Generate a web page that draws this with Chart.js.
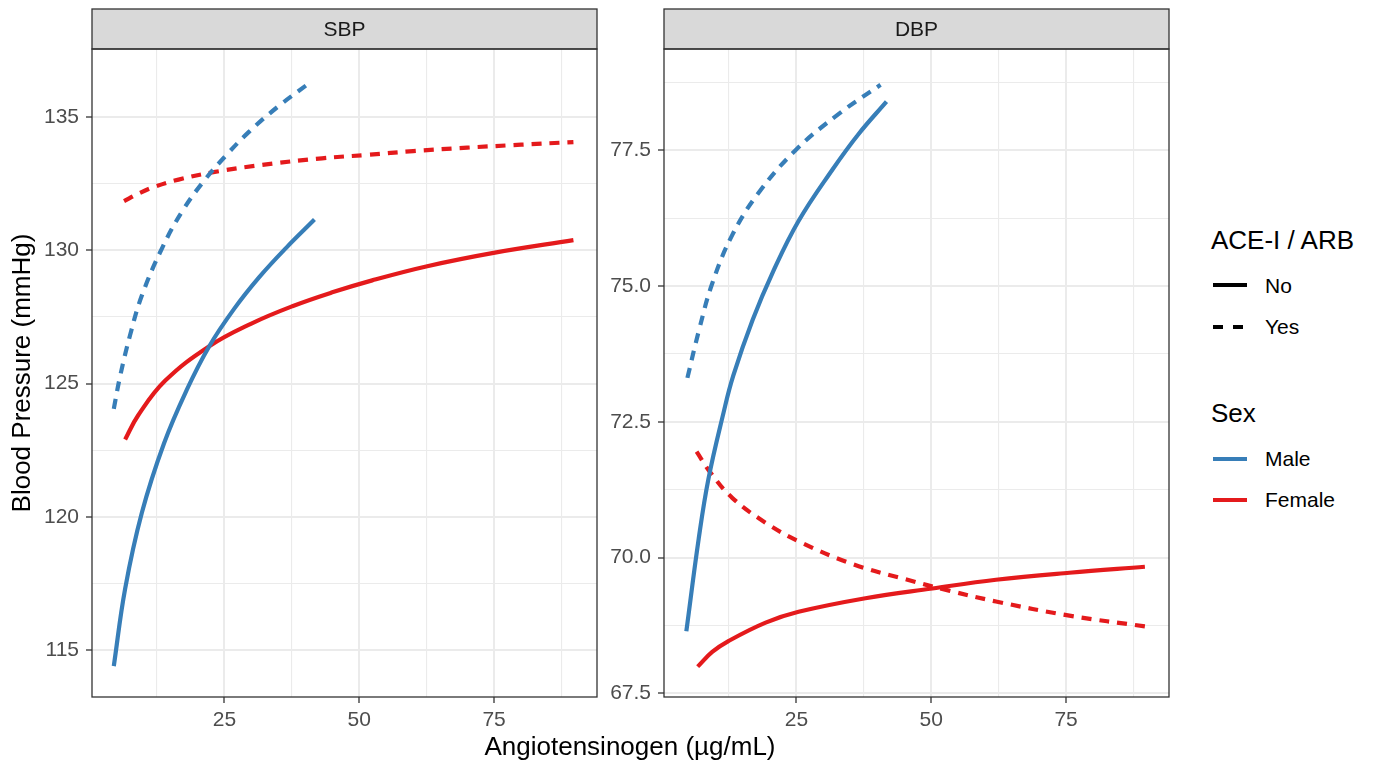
<!DOCTYPE html>
<html>
<head>
<meta charset="utf-8">
<script src="https://cdn.jsdelivr.net/npm/chart.js@4.4.0/dist/chart.umd.min.js"></script>
<style>
  body { margin: 0; background: #fff; font-family: "Liberation Sans", Arial, sans-serif; }
  #wrap { position: relative; width: 1376px; height: 768px; overflow: hidden; background: #fff; }
  canvas { position: absolute; top: 0; }
  #c1 { left: 0; }
  #c2 { left: 598px; }
  .xtitle { position: absolute; left: 330px; width: 600px; top: 731px; line-height: 30px; text-align: center; font-size: 26px; color: #000; }
  .ltitle { position: absolute; left: 1211px; font-size: 26px; line-height: 30px; color: #000; }
  .ltext { position: absolute; left: 1265px; font-size: 21px; line-height: 24px; color: #000; }
  .key { position: absolute; height: 4px; }
</style>
</head>
<body>
<div id="wrap">
  <canvas id="c1" width="598" height="768"></canvas>
  <canvas id="c2" width="572" height="768"></canvas>
  <div class="xtitle">Angiotensinogen (µg/mL)</div>

  <div class="ltitle" style="top:225px">ACE-I / ARB</div>
  <div class="key" style="left:1213px;top:283px;width:34px;background:#000"></div>
  <div class="ltext" style="top:274px">No</div>
  <div class="key" style="left:1213px;top:325px;width:10px;background:#000"></div>
  <div class="key" style="left:1233px;top:325px;width:10px;background:#000"></div>
  <div class="ltext" style="top:315px">Yes</div>

  <div class="ltitle" style="top:398px">Sex</div>
  <div class="key" style="left:1213px;top:457px;width:34px;background:#377EB8"></div>
  <div class="ltext" style="top:447px">Male</div>
  <div class="key" style="left:1213px;top:498px;width:34px;background:#E41A1C"></div>
  <div class="ltext" style="top:488px">Female</div>
</div>

<script>
// x axis (Angiotensinogen, µg/mL)
var xMajor = [25, 50, 75];
var xMinor = [12.5, 37.5, 62.5, 87.5];

// SBP panel
var sbpMajor = [115, 120, 125, 130, 135];
var sbpMinor = [117.5, 122.5, 127.5, 132.5];
var sbpMaleNoX   = [4.5, 6.6, 9.7, 13.8, 18.0, 22.2, 26.8, 31.5, 36.5, 41.7];
var sbpMaleNoY   = [114.4, 117.3, 120.15, 122.75, 124.75, 126.4, 127.8, 129.0, 130.1, 131.15];
var sbpMaleYesX  = [4.5, 5.7, 7.5, 9.7, 13.5, 17.3, 21.4, 25.5, 29.6, 35.0, 40.6];
var sbpMaleYesY  = [124.05, 125.3, 126.8, 128.3, 130.1, 131.5, 132.65, 133.6, 134.45, 135.4, 136.25];
var sbpFemNoX    = [6.6, 9.0, 14.0, 22.2, 30.0, 37.6, 45.0, 52.4, 62.6, 74.9, 89.7];
var sbpFemNoY    = [122.9, 123.8, 125.1, 126.4, 127.25, 127.9, 128.42, 128.87, 129.4, 129.9, 130.38];
var sbpFemYesX   = [6.4, 9.0, 12.0, 16.5, 22.7, 32.0, 43.1, 51.7, 60.0, 70.0, 80.0, 89.7];
var sbpFemYesY   = [131.84, 132.12, 132.38, 132.65, 132.92, 133.2, 133.45, 133.58, 133.72, 133.85, 133.96, 134.06];

// DBP panel
var dbpMaleNoX   = [4.6, 6.9, 8.7, 11.5, 13.3, 16.9, 20.6, 25.4, 31.7, 36.5, 41.7];
var dbpMaleNoY   = [68.64, 70.35, 71.45, 72.67, 73.35, 74.38, 75.25, 76.2, 77.15, 77.8, 78.4];
var dbpMaleYesX  = [4.8, 6.9, 9.4, 13.1, 18.0, 24.8, 32.8, 40.6];
var dbpMaleYesY  = [73.31, 74.17, 75.05, 75.94, 76.72, 77.5, 78.17, 78.71];
var dbpFemNoX    = [6.7, 9.4, 12.4, 19.3, 25.4, 37.8, 50.2, 62.0, 75.6, 89.6];
var dbpFemNoY    = [67.99, 68.26, 68.46, 68.8, 69.0, 69.25, 69.43, 69.59, 69.72, 69.83];
var dbpFemYesX   = [6.5, 9.1, 13.1, 19.3, 25.4, 35.4, 45.2, 53.3, 62.0, 75.6, 89.6];
var dbpFemYesY   = [71.95, 71.56, 71.1, 70.64, 70.3, 69.88, 69.6, 69.39, 69.19, 68.93, 68.73];
var dbpMajor = [67.5, 70, 72.5, 75, 77.5];
var dbpMinor = [68.75, 71.25, 73.75, 76.25, 78.75];

var blue = '#377EB8', red = '#E41A1C';
var FONT = '"Liberation Sans", Arial, sans-serif';

function pts(xs, ys) {
  return xs.map(function (x, i) { return { x: x, y: ys[i] }; });
}

function line(xs, ys, color, dashed) {
  return {
    data: pts(xs, ys),
    borderColor: color,
    borderWidth: 4.2,
    borderDash: dashed ? [10, 8] : [],
    borderCapStyle: 'butt',
    pointRadius: 0,
    tension: 0.4,
    fill: false
  };
}

// strip header + panel border, ggplot style
var panelPlugin = {
  id: 'panel',
  afterDraw: function (chart, args, opts) {
    var a = chart.chartArea, c = chart.ctx;
    c.save();
    c.fillStyle = '#D9D9D9';
    c.fillRect(a.left, 9, a.right - a.left, a.top - 9);
    c.strokeStyle = '#333333';
    c.lineWidth = 1.3;
    c.strokeRect(a.left, 9, a.right - a.left, a.top - 9);
    c.strokeRect(a.left, a.top, a.right - a.left, a.bottom - a.top);
    c.fillStyle = '#1A1A1A';
    c.font = '21px ' + FONT;
    c.textAlign = 'center';
    c.textBaseline = 'middle';
    c.fillText(opts.text, (a.left + a.right) / 2, (9 + a.top) / 2 + 1);
    c.restore();
  }
};

function axisTicks(major, minor) {
  return function (s) {
    s.ticks = major.concat(minor).sort(function (p, q) { return p - q; })
      .map(function (v) { return { value: v }; });
  };
}

function isMajor(major, ctx) {
  return ctx.tick && major.indexOf(ctx.tick.value) >= 0;
}

function makeChart(id, title, datasets, yMin, yMax, yMajor, yMinor, yWidth, yDigits, yTitle) {
  return new Chart(document.getElementById(id), {
    type: 'line',
    data: { datasets: datasets },
    plugins: [panelPlugin],
    options: {
      responsive: false,
      animation: false,
      layout: { padding: { top: 49, right: 1, left: 0, bottom: 0 } },
      plugins: { legend: { display: false }, tooltip: { enabled: false }, panel: { text: title } },
      scales: {
        x: {
          type: 'linear', min: 0.46, max: 94.07,
          afterBuildTicks: axisTicks(xMajor, xMinor),
          afterFit: function (s) { s.height = 71; },
          border: { display: false },
          grid: {
            color: '#EBEBEB',
            lineWidth: function (ctx) { return isMajor(xMajor, ctx) ? 2 : 1.1; },
            tickLength: 6,
            tickColor: function (ctx) { return isMajor(xMajor, ctx) ? '#333333' : 'rgba(0,0,0,0)'; },
            tickWidth: 1.3
          },
          ticks: {
            autoSkip: false, maxRotation: 0, padding: 5,
            color: '#4D4D4D', font: { family: FONT, size: 21 },
            callback: function (v) { return xMajor.indexOf(v) >= 0 ? String(v) : ''; }
          }
        },
        y: {
          min: yMin, max: yMax,
          afterBuildTicks: axisTicks(yMajor, yMinor),
          afterFit: function (s) { s.width = yWidth; },
          border: { display: false },
          grid: {
            color: '#EBEBEB',
            lineWidth: function (ctx) { return isMajor(yMajor, ctx) ? 2 : 1.1; },
            tickLength: 6,
            tickColor: function (ctx) { return isMajor(yMajor, ctx) ? '#333333' : 'rgba(0,0,0,0)'; },
            tickWidth: 1.3
          },
          ticks: {
            autoSkip: false, padding: 7,
            color: '#4D4D4D', font: { family: FONT, size: 21 },
            callback: function (v) { return yMajor.indexOf(v) >= 0 ? v.toFixed(yDigits) : ''; }
          },
          title: {
            display: !!yTitle, text: yTitle || '', color: '#000',
            font: { family: FONT, size: 26 }, padding: { top: 7, bottom: 0 }
          }
        }
      }
    }
  });
}

makeChart('c1', 'SBP', [
  line(sbpMaleNoX, sbpMaleNoY, blue, false),
  line(sbpMaleYesX, sbpMaleYesY, blue, true),
  line(sbpFemNoX, sbpFemNoY, red, false),
  line(sbpFemYesX, sbpFemYesY, red, true)
], 113.24, 137.55, sbpMajor, sbpMinor, 92, 0, 'Blood Pressure (mmHg)');

makeChart('c2', 'DBP', [
  line(dbpMaleNoX, dbpMaleNoY, blue, false),
  line(dbpMaleYesX, dbpMaleYesY, blue, true),
  line(dbpFemNoX, dbpFemNoY, red, false),
  line(dbpFemYesX, dbpFemYesY, red, true)
], 67.43, 79.37, dbpMajor, dbpMinor, 66, 1, null);
</script>
</body>
</html>
